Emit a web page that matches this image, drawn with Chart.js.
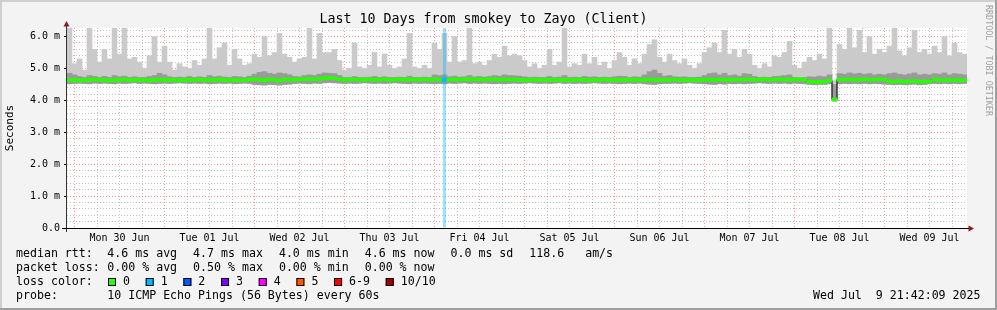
<!DOCTYPE html>
<html lang="en">
<head>
    <meta charset="UTF-8">
    <title>Last 10 Days from smokey to Zayo (Client)</title>
    <script src="https://cdn.jsdelivr.net/npm/chart.js@4.4.1/dist/chart.umd.min.js"></script>
    <style>
        body { margin: 0; background: #f3f3f3; }
        canvas { display: block; }
    </style>
</head>
<body>

<canvas id="smoke" width="997" height="310"></canvas>

<script>

    // 180 buckets of 80 minutes = 10 days, first one starts Sun 29 Jun ~22:00
    // values in ms
    const smokeHi = [
        6.3, 5.15, 5.3, 4.95, 6.3, 5.6, 5.2, 5.6, 5.3, 6.3, 5.45, 6.3, 5.3, 5.35, 5.2,
        5.0, 5.4, 6.0, 5.2, 5.7, 5.2, 4.95, 5.15, 5.05, 5.0, 5.25, 5.1, 5.3, 6.3, 5.3,
        5.65, 5.8, 5.1, 5.6, 5.3, 5.1, 5.15, 5.45, 5.35, 6.0, 5.4, 5.5, 6.1, 5.45, 5.35,
        5.2, 5.3, 5.35, 6.3, 5.3, 6.1, 5.5, 5.5, 5.6, 5.25, 4.95, 5.0, 5.8, 5.05, 5.0,
        5.1, 5.5, 5.05, 5.45, 5.1, 5.0, 5.05, 5.3, 6.1, 5.05, 5.0, 5.1, 5.0, 5.8, 5.6,
        6.1, 5.2, 6.0, 5.2, 5.25, 6.3, 5.15, 5.2, 5.1, 5.25, 5.45, 5.35, 5.7, 5.4, 5.45,
        5.4, 5.25, 5.05, 5.15, 5.0, 5.1, 5.6, 5.1, 5.2, 6.3, 5.05, 5.15, 5.1, 5.45, 5.15,
        5.35, 5.1, 5.2, 5.0, 5.25, 5.5, 5.35, 5.1, 5.3, 5.15, 5.45, 5.75, 5.9, 5.35, 5.2,
        5.45, 5.25, 5.15, 5.3, 5.1, 5.0, 5.15, 5.5, 5.65, 5.8, 5.5, 6.2, 5.45, 5.6, 5.35,
        5.6, 5.45, 5.1, 5.0, 5.15, 5.05, 5.4, 5.35, 5.5, 5.85, 5.1, 5.0, 5.2, 5.35, 5.25,
        5.45, 5.3, 6.3, 4.62, 5.75, 5.6, 6.3, 5.65, 6.2, 5.5, 6.0, 5.45, 5.6, 5.5, 5.7,
        6.3, 5.55, 5.4, 5.65, 6.2, 5.5, 5.6, 5.45, 5.7, 5.5, 6.0, 5.4, 5.8, 5.5, 5.45
    ];
    const smokeMid = [
        4.85, 4.8, 4.75, 4.72, 4.78, 4.75, 4.72, 4.75, 4.72, 4.78, 4.74, 4.76, 4.72, 4.74, 4.72,
        4.72, 4.75, 4.78, 4.85, 4.8, 4.74, 4.72, 4.73, 4.72, 4.75, 4.72, 4.74, 4.72, 4.78, 4.74,
        4.76, 4.73, 4.72, 4.75, 4.74, 4.72, 4.76, 4.82, 4.88, 4.9, 4.85, 4.82, 4.86, 4.84, 4.8,
        4.75, 4.74, 4.78, 4.8, 4.78, 4.82, 4.86, 4.85, 4.84, 4.78, 4.72, 4.72, 4.75, 4.72, 4.72,
        4.73, 4.75, 4.72, 4.74, 4.72, 4.72, 4.73, 4.72, 4.76, 4.72, 4.72, 4.73, 4.72, 4.8, 4.78,
        4.8, 4.74, 4.76, 4.73, 4.74, 4.78, 4.74, 4.75, 4.73, 4.75, 4.78, 4.76, 4.8, 4.78, 4.77,
        4.76, 4.74, 4.72, 4.73, 4.72, 4.72, 4.75, 4.72, 4.73, 4.78, 4.72, 4.73, 4.72, 4.75, 4.73,
        4.74, 4.72, 4.73, 4.72, 4.74, 4.76, 4.75, 4.72, 4.74, 4.73, 4.8, 4.9, 4.95, 4.85, 4.76,
        4.78, 4.74, 4.73, 4.74, 4.72, 4.72, 4.73, 4.78, 4.84, 4.86, 4.8, 4.85, 4.78, 4.8, 4.76,
        4.84, 4.82, 4.75, 4.72, 4.73, 4.72, 4.75, 4.76, 4.78, 4.8, 4.72, 4.71, 4.72, 4.74, 4.73,
        4.76, 4.74, 4.8, 4.5, 4.84, 4.82, 4.86, 4.83, 4.85, 4.82, 4.84, 4.8, 4.82, 4.8, 4.84,
        4.86, 4.82, 4.8, 4.83, 4.86, 4.8, 4.82, 4.8, 4.84, 4.82, 4.86, 4.8, 4.84, 4.82, 4.8
    ];
    const smokeLo = [
        4.52, 4.53, 4.54, 4.53, 4.52, 4.54, 4.53, 4.54, 4.53, 4.52, 4.54, 4.53, 4.54, 4.55, 4.53,
        4.54, 4.53, 4.52, 4.53, 4.54, 4.53, 4.54, 4.55, 4.54, 4.53, 4.54, 4.53, 4.54, 4.52, 4.53,
        4.54, 4.53, 4.54, 4.52, 4.53, 4.54, 4.53, 4.5, 4.49, 4.48, 4.5, 4.49, 4.48, 4.5, 4.51,
        4.53, 4.54, 4.53, 4.52, 4.54, 4.53, 4.55, 4.56, 4.55, 4.54, 4.53, 4.54, 4.53, 4.54, 4.55,
        4.54, 4.53, 4.54, 4.53, 4.54, 4.55, 4.54, 4.53, 4.52, 4.54, 4.53, 4.54, 4.53, 4.52, 4.53,
        4.52, 4.54, 4.53, 4.54, 4.55, 4.53, 4.54, 4.53, 4.54, 4.53, 4.52, 4.53, 4.52, 4.53, 4.54,
        4.53, 4.54, 4.55, 4.54, 4.53, 4.54, 4.53, 4.54, 4.55, 4.53, 4.54, 4.53, 4.54, 4.53, 4.54,
        4.55, 4.54, 4.53, 4.54, 4.53, 4.52, 4.53, 4.54, 4.53, 4.54, 4.52, 4.51, 4.5, 4.52, 4.53,
        4.53, 4.54, 4.53, 4.54, 4.55, 4.54, 4.53, 4.52, 4.51, 4.5, 4.52, 4.51, 4.53, 4.52, 4.53,
        4.52, 4.53, 4.54, 4.55, 4.54, 4.53, 4.54, 4.53, 4.54, 4.52, 4.54, 4.53, 4.52, 4.5, 4.49,
        4.5, 4.5, 4.52, 3.98, 4.52, 4.53, 4.52, 4.53, 4.52, 4.53, 4.52, 4.53, 4.52, 4.51, 4.5,
        4.49, 4.5, 4.49, 4.5, 4.51, 4.49, 4.5, 4.52, 4.53, 4.52, 4.53, 4.52, 4.53, 4.52, 4.53
    ];
    const median = [
        4.64, 4.64, 4.63, 4.64, 4.64, 4.65, 4.64, 4.64, 4.63, 4.64, 4.64, 4.65, 4.64, 4.64, 4.64,
        4.64, 4.63, 4.64, 4.65, 4.64, 4.64, 4.64, 4.63, 4.64, 4.64, 4.64, 4.65, 4.64, 4.64, 4.64,
        4.65, 4.64, 4.64, 4.64, 4.63, 4.64, 4.65, 4.66, 4.65, 4.63, 4.66, 4.65, 4.62, 4.66, 4.65,
        4.65, 4.66, 4.66, 4.67, 4.66, 4.67, 4.7, 4.7, 4.69, 4.66, 4.65, 4.65, 4.66, 4.65, 4.65,
        4.66, 4.65, 4.65, 4.66, 4.65, 4.65, 4.66, 4.65, 4.66, 4.65, 4.65, 4.66, 4.65, 4.66, 4.65,
        4.65, 4.65, 4.66, 4.65, 4.66, 4.65, 4.66, 4.66, 4.65, 4.66, 4.66, 4.65, 4.66, 4.65, 4.65,
        4.65, 4.64, 4.64, 4.65, 4.64, 4.64, 4.64, 4.65, 4.64, 4.64, 4.64, 4.64, 4.65, 4.64, 4.64,
        4.64, 4.64, 4.65, 4.64, 4.64, 4.64, 4.64, 4.65, 4.64, 4.64, 4.64, 4.65, 4.64, 4.64, 4.64,
        4.64, 4.65, 4.64, 4.64, 4.64, 4.64, 4.64, 4.65, 4.65, 4.64, 4.65, 4.65, 4.64, 4.65, 4.65,
        4.65, 4.66, 4.65, 4.65, 4.66, 4.65, 4.65, 4.66, 4.65, 4.65, 4.65, 4.66, 4.65, 4.58, 4.58,
        4.58, 4.59, 4.62, 4.03, 4.65, 4.65, 4.66, 4.65, 4.65, 4.66, 4.65, 4.65, 4.66, 4.65, 4.6,
        4.59, 4.61, 4.58, 4.6, 4.61, 4.58, 4.6, 4.59, 4.66, 4.63, 4.64, 4.63, 4.64, 4.63, 4.63
    ];
    // lost pings out of 10 per bucket
    const loss = [
        0, 0, 0, 0, 0, 0, 0, 0, 0, 0, 0, 0, 0, 0, 0,
        0, 0, 0, 0, 0, 0, 0, 0, 0, 0, 0, 0, 0, 0, 0,
        0, 0, 0, 0, 0, 0, 0, 0, 0, 0, 0, 0, 0, 0, 0,
        0, 0, 0, 0, 0, 0, 0, 0, 0, 0, 0, 0, 0, 0, 0,
        0, 0, 0, 0, 0, 0, 0, 0, 0, 0, 0, 0, 0, 0, 0,
        1, 0, 0, 0, 0, 0, 0, 0, 0, 0, 0, 0, 0, 0, 0,
        0, 0, 0, 0, 0, 0, 0, 0, 0, 0, 0, 0, 0, 0, 0,
        0, 0, 0, 0, 0, 0, 0, 0, 0, 0, 0, 0, 0, 0, 0,
        0, 0, 0, 0, 0, 0, 0, 0, 0, 0, 0, 0, 0, 0, 0,
        0, 0, 0, 0, 0, 0, 0, 0, 0, 0, 0, 0, 0, 0, 0,
        0, 0, 0, 0, 0, 0, 0, 0, 0, 0, 0, 0, 0, 0, 0,
        0, 0, 0, 0, 0, 0, 0, 0, 0, 0, 0, 0, 0, 0, 0
    ];

    const dayLabels = ['Mon 30 Jun', 'Tue 01 Jul', 'Wed 02 Jul', 'Thu 03 Jul', 'Fri 04 Jul',
                       'Sat 05 Jul', 'Sun 06 Jul', 'Mon 07 Jul', 'Tue 08 Jul', 'Wed 09 Jul'];
    const yLabels = ['0.0', '1.0 m', '2.0 m', '3.0 m', '4.0 m', '5.0 m', '6.0 m'];

    const lossColors = ['#26ff00', '#00b8ff', '#0059ff', '#7e00ff', '#ff00ff', '#ff5500', '#ff0000', '#a00000'];
    const lossNames = ['0', '1', '2', '3', '4', '5', '6-9', '10/10'];
    const rttStats = ['4.6 ms avg', '4.7 ms max', '4.0 ms min', '4.6 ms now', '0.0 ms sd', '118.6   am/s'];
    const lossStats = ['0.00 % avg', '0.50 % max', '0.00 % min', '0.00 % now'];
    const probeText = '10 ICMP Echo Pings (56 Bytes) every 60s';
    const stamp = 'Wed Jul  9 21:42:09 2025';

    const hoursStart = -2;   // hours relative to Mon 30 Jun 00:00
    const hoursSpan = 240;
    const yMax = 6.27;

    const MONO = 'DejaVu Sans Mono';
    const gridGray = 'rgba(143,143,143,0.55)';
    const gridRed = 'rgba(228,70,70,0.55)';

    function lossColor(n) {
        const idx = n >= 10 ? 7 : (n >= 6 ? 6 : n);
        return lossColors[idx];
    }

    const rrdFrame = {
        id: 'rrdFrame',
        beforeDraw(chart) {
            const {ctx, width, height, chartArea: a} = chart;
            ctx.save();
            ctx.fillStyle = '#f3f3f3';
            ctx.fillRect(0, 0, width, height);
            ctx.fillStyle = '#cfcfcf';
            ctx.fillRect(0, 0, width, 2);
            ctx.fillRect(0, 0, 2, height);
            ctx.fillStyle = '#9e9e9e';
            ctx.fillRect(0, height - 2, width, 2);
            ctx.fillRect(width - 2, 0, 2, height);
            ctx.fillStyle = '#ffffff';
            ctx.fillRect(a.left, a.top, a.right - a.left, a.bottom - a.top);
            ctx.restore();
        },
        afterDraw(chart) {
            const {ctx, chartArea: a} = chart;
            ctx.save();
            // axes with arrows
            ctx.lineWidth = 1;
            ctx.strokeStyle = '#333';
            ctx.beginPath();
            ctx.moveTo(a.left - 0.5, a.bottom + 4);
            ctx.lineTo(a.left - 0.5, a.top - 2);
            ctx.stroke();
            ctx.strokeStyle = '#000';
            ctx.beginPath();
            ctx.moveTo(a.left - 5, a.bottom + 0.5);
            ctx.lineTo(a.right + 2, a.bottom + 0.5);
            ctx.stroke();
            ctx.fillStyle = '#901818';
            ctx.beginPath();
            ctx.moveTo(a.left - 0.5, a.top - 7);
            ctx.lineTo(a.left - 3.5, a.top - 1.5);
            ctx.lineTo(a.left + 2.5, a.top - 1.5);
            ctx.closePath();
            ctx.fill();
            ctx.beginPath();
            ctx.moveTo(a.right + 7, a.bottom + 0.5);
            ctx.lineTo(a.right + 1.5, a.bottom - 2.5);
            ctx.lineTo(a.right + 1.5, a.bottom + 3.5);
            ctx.closePath();
            ctx.fill();

            // legend block
            ctx.font = '11.6px "' + MONO + '"';
            ctx.fillStyle = '#000';
            ctx.textBaseline = 'alphabetic';
            const cw = ctx.measureText('0').width;
            const valX = 107.3;
            ctx.fillText('median rtt:', 16, 257.3);
            let x = valX;
            rttStats.forEach(s => { ctx.fillText(s, x, 257.3); x += s.length * cw + 16; });
            ctx.fillText('packet loss:', 16, 271.3);
            x = valX;
            lossStats.forEach(s => { ctx.fillText(s, x, 271.3); x += s.length * cw + 16; });
            ctx.fillText('loss color:', 16, 285.3);
            let bx = 108;
            lossNames.forEach((s, i) => {
                ctx.fillStyle = lossColors[i];
                ctx.fillRect(bx, 278, 8, 8);
                ctx.strokeStyle = '#000';
                ctx.strokeRect(bx + 0.5, 278.5, 7, 7);
                ctx.fillStyle = '#000';
                ctx.fillText(s, bx + 15, 285.3);
                bx = bx + 15 + s.length * cw + 15.7;
            });
            ctx.fillText('probe:', 16, 299.3);
            ctx.fillText(probeText, valX, 299.3);
            ctx.textAlign = 'right';
            ctx.fillText(stamp, 980.5, 299.3);

            // vertical credit on the right
            ctx.translate(988.5, 5);
            ctx.rotate(Math.PI / 2);
            ctx.textAlign = 'left';
            ctx.textBaseline = 'middle';
            ctx.font = '8.4px "' + MONO + '"';
            ctx.fillStyle = '#a0a0a0';
            ctx.fillText('RRDTOOL / TOBI OETIKER', 0, 0);
            ctx.restore();
        }
    };

    Chart.defaults.font.family = MONO;
    Chart.defaults.color = '#000';

    const labels = median.map((_, i) => i);

    new Chart('smoke', {
        data: {
            labels: labels,
            datasets: [
                {
                    type: 'bar',
                    label: 'smoke',
                    data: smokeHi.map((v, i) => [smokeLo[i], v]),
                    backgroundColor: '#cacaca',
                    order: 6
                },
                {
                    type: 'bar',
                    label: 'smoke core',
                    data: smokeMid.map((v, i) => [smokeLo[i], v]),
                    backgroundColor: '#9a9a9a',
                    order: 5
                },
                {
                    type: 'bar',
                    label: 'loss',
                    data: loss.map(n => n > 0 ? [0, yMax] : null),
                    backgroundColor: loss.map(n => lossColor(n) + '66'),
                    barPercentage: 0.6,
                    order: 4
                },
                {
                    type: 'line',
                    label: 'median step',
                    data: median,
                    borderColor: '#000',
                    borderWidth: 1,
                    stepped: 'middle',
                    pointRadius: 0,
                    order: 3
                },
                {
                    type: 'bar',
                    label: 'median rtt',
                    data: median.map(v => [v - 0.047, v + 0.047]),
                    backgroundColor: loss.map(lossColor),
                    order: 2
                }
            ]
        },
        options: {
            responsive: false,
            animation: false,
            events: [],
            layout: {padding: {left: 0, right: 30, top: 0, bottom: 0}},
            datasets: {
                bar: {grouped: false, barPercentage: 1, categoryPercentage: 1, borderWidth: 0}
            },
            plugins: {
                legend: {display: false},
                tooltip: {enabled: false},
                title: {
                    display: true,
                    text: 'Last 10 Days from smokey to Zayo (Client)',
                    font: {size: 13.3, weight: 'normal'},
                    color: '#000',
                    padding: {top: 12, bottom: 0}
                }
            },
            scales: {
                x: {type: 'category', display: false},
                xt: {
                    type: 'linear',
                    position: 'bottom',
                    min: hoursStart,
                    max: hoursStart + hoursSpan,
                    z: 1,
                    afterBuildTicks: s => {
                        s.ticks = [];
                        for (let h = 0; h <= s.max; h += 6) s.ticks.push({value: h});
                    },
                    afterFit: s => { s.height = 82; },
                    grid: {
                        color: c => (c.tick && c.tick.value % 24 === 0) ? gridRed : gridGray,
                        tickLength: 3,
                        tickColor: c => (c.tick && c.tick.value % 24 === 0) ? gridRed : 'rgba(0,0,0,0)',
                        tickBorderDash: [1, 2]
                    },
                    border: {display: false, dash: [1, 2]},
                    ticks: {
                        autoSkip: false,
                        maxRotation: 0,
                        padding: 1,
                        font: {size: 10},
                        callback: v => (v % 24 === 12) ? dayLabels[(v - 12) / 24] : ''
                    }
                },
                y: {
                    min: 0,
                    max: yMax,
                    z: 1,
                    afterBuildTicks: s => {
                        s.ticks = [];
                        for (let k = 0; k <= 31; k++) if (k / 5 <= s.max) s.ticks.push({value: k / 5});
                    },
                    afterFit: s => { s.width = 67; },
                    grid: {
                        color: c => (c.tick && Number.isInteger(c.tick.value)) ? gridRed : gridGray,
                        tickLength: 3,
                        tickColor: c => (c.tick && Number.isInteger(c.tick.value)) ? '#000' : 'rgba(0,0,0,0)'
                    },
                    border: {display: false, dash: [1, 2]},
                    ticks: {
                        autoSkip: false,
                        padding: 4,
                        font: {size: 10},
                        callback: v => Number.isInteger(v) ? yLabels[v] : ''
                    },
                    title: {
                        display: true,
                        text: 'Seconds',
                        font: {size: 11}
                    }
                }
            }
        },
        plugins: [rrdFrame]
    });

</script>

</body>
</html>
